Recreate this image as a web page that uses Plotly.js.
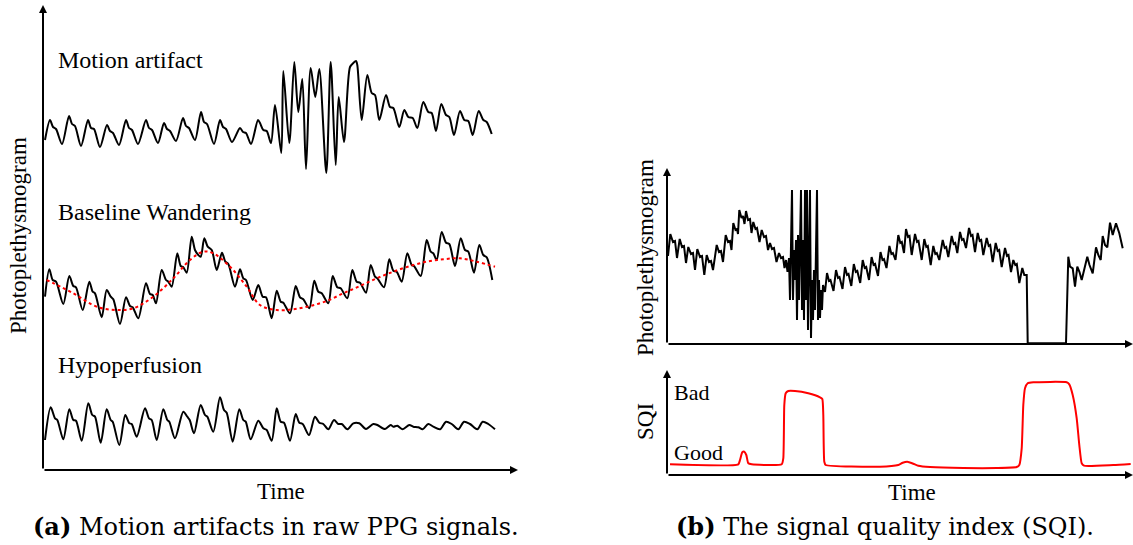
<!DOCTYPE html>
<html><head><meta charset="utf-8">
<script src="https://cdn.plot.ly/plotly-3.0.1.min.js"></script>
<style>html,body{margin:0;padding:0;background:#fff}#chart{width:1133px;height:545px}</style>
</head><body><div id="chart"></div><script>
// ---- (a) Motion artifact signal ----
const motionT=[2,7,10,13,19,26,29,32,38,45,48,51,57,64,67,70,76,83,86,89,95,103,106,109,115,121,124,127,133,140,143,146,152,158,161,164,171,177,180,183,189,197,200,203,208,215,217,220.3,223.7,228,232,238.3,240.3,246.3,251.3,255.3,259.3,263,267.7,272.3,276.3,283.3,287.7,292.7,295.7,301,307,310.3,313,314.3,318.7,324.3,328.7,332,336.3,343,347,350.3,356.3,361.3,365.3,369.7,374.3,380.3,385.3,388.7,393,398.3,403,406.3,411,417,421.3,425.3,429.7,435.7,440.3,443.7,448.7];
const motionA=[330,350,343,341,326,354,346,344,324,350,342,341,323,345,339,337,325,350,342,340,326,350,342,340,327,347,341,339,329,352,344,342,330,358,348,346,326,350,343,341,328,342,338,337,326,350,347,340,339,327,365,317,399,327,408,358,391,301,402,373,401,297,408,305,373,328,403,407,409,405,350,395,377,375,350,375,363,362,343,360,353,352,342,368,358,357,339,366,355,353,335,359,350,349,335,359,350,348,336];
// ---- (a) Baseline wandering signal ----
const wanderT=[2,6.3,9.7,13,20.3,26.3,30.3,33,39.7,46.3,49.7,52,58.7,63.7,67.7,70.3,77,83,87,89.7,95.3,103,107,109.7,113,118.7,123,125.3,128.7,134.3,137.7,140.3,143.7,148.7,152,155.3,157.7,161.3,164.7,168.7,173.7,179,182.3,185.3,192,197,200.3,203,209.7,215.3,219.7,223,228.7,233.7,237.7,240.3,247,252.7,257,260.3,266.3,271.3,275.3,278.7,285.3,289.7,294.3,297.7,304.3,309.3,313.7,317,323,327.7,332,334.3,341,346.3,350.3,353.7,358.7,364.3,368.7,371,377.7,383.7,387.7,390.3,393.7,398.7,403,406.3,412,417.7,422,425.3,431,436.3,440.3,443.7,449.3];
const wanderA=[173.3,200.7,190,188.3,166,194,184,182.7,160,188.3,178.3,176.7,152.7,180,173.3,170.7,146,172.7,164,162.7,151.7,186.7,176,175,166.7,200,190,188.3,183.3,216.7,204,202.7,197.3,233.3,220,215,213.3,231.7,223.3,220,200,217.3,208.3,206,183.3,200.7,191.7,190,170,185,173.3,172.7,151.7,179.3,168.3,167.3,156.7,184,172.7,170.7,161.7,189.3,178.3,176.7,166.7,194,182.7,181.7,171.7,200,188.3,187.3,177.3,205,193.3,191.7,182.7,210.7,199.3,198.3,188.3,216.7,205,204,194,230,218.3,216.7,210,238,227.3,226,204,231.7,220,218.3,197.3,225,215,212.7,190];
const trendT=[3.7,30.3,53.7,73.7,90.3,110.3,130.3,147,160.3,170.3,187,203.7,217,233.7,250.3,267,283.7,300.3,317,333.7,350.3,367,383.7,400.3,417,433.7,452];
const trendA=[190,176.7,163.3,160,161.7,173.3,191.7,210,218.3,216.7,203.3,183.3,165,160,160.7,164,169,176.7,184,191.7,198.3,204,208.3,210.7,211.7,208.3,203.3];
// ---- (a) Hypoperfusion signal ----
const hypoT=[2,7.7,12,14.3,20.3,26.3,30.3,33,38.7,45.3,49.3,52,57.7,63.7,67.7,69.7,76.3,82.3,86.3,88.7,93.7,102,106,108.7,113.7,120.3,124.3,126.3,132,140.3,144.3,146.7,151,157.7,162,164.3,170.3,177,181,183.7,189.7,196.3,200.3,202.7,207.7,215.3,220.3,223.7,228.7,233.7,237.7,241,247,252.7,256.3,259.7,266,272,276.3,280.3,285.3,291,295.3,298.7,304.3,310.3,316.3,323,330.3,334.3,342,347.7,350.3,354.3,359.7,366.3,370.3,375.3,379.7,385.3,390.3,397,403,408.7,415.3,421,427,434.3,439.7,445.3,452];
const hypoA=[30,62.7,51.7,50,30.7,60.7,50,49.3,29.3,66.7,55,53.3,27.3,60.7,50,48.3,25,55,46.7,46,33.3,61.7,51.7,50,30,60.7,50,48.3,31.7,58.3,53.3,50,36.7,65,55,53.3,38.3,72.7,60,57.3,28.3,60.7,50,48.3,30.7,49.3,41.7,40,29.3,61.7,48.3,47.3,29.3,56,47.3,46,35,53.3,47.3,46,40.7,50,46,46,40.7,46.7,46.7,41,46,45,41,45,43.3,44.3,40.7,45,43.3,42.7,40.7,46,43.3,40.7,48.3,46,40.7,48.3,46,40.7,48.3,46,40.7];
// ---- (b) PPG signal ----
const ppgT=[1,3.3,6,8,10,12.7,15,17,19,21.3,24,26,28,30.3,33,35,37.3,39.7,42,44,46,49.7,52,54,56,58.7,61,63,64.5,66.3,68.5,70,71,72.3,74.5,76,77.5,79,81,83,84.5,86.3,88.5,90,92.5,94.7,97,99,101,103,105,107,109.5,112,114,116,117.5,119,120.5,
122,123,124,125,126,127,128,129,130,131,132,133,134,135,136,137,138,139,140,141,142,143,144,145,146,147,148,149,150,151,152,153,154,155,156,158,
160,162,163.5,166.5,169,171,172.5,175.5,178,180,181.5,184.3,186.8,188.8,190.3,193.2,195.7,197.7,199.2,202,204.6,206.6,208.1,211,213.5,215.5,217,219.5,222.4,224.4,225.9,228.5,231.3,233.3,234.8,237,239,241,242.5,244.7,248,250,251.5,254.7,257.3,259.3,260.8,263.7,266.3,268.3,269.8,272.3,275.7,277.7,279.2,281.3,284.7,286.7,288.2,290.3,293,295,296.5,299,302,304,305.5,308,310.7,312.7,314.2,316.3,319.7,321.7,323.2,325.7,328.7,330.7,332.2,334.7,338,340,341.5,344,346.3,348.3,349.8,352.3,355.3,357.3,359.7,360.7,399,
401.3,403,405.7,408,410.3,412.5,414.7,420.3,422.5,425.7,429,431.3,433.7,435.7,438,440.3,443,445.7,449,452.3,455.7];
const ppgA=[88,110,102,103,86,105,97,98,81,97,90,91,74,95,87,88,69,89,82,83,74,99,92,93,82,109,102,103,94,121,114,115,110,134,126,128,120,133,124,125,111,122,115,116,102,114,107,108,94,101,95,96,82,91,86,87,76,84,72,
86,44,89,154,44,94,64,104,24,109,44,94,154,34,104,24,154,44,154,14,84,154,6,64,24,74,34,94,154,24,64,26,54,34,59,52,
71,63,64,53,74,66,67,55,77,69,70,58,80,72,73,61,84,76,77,64,87,79,80,68,92,84,85,76,98,90,91,84,109,101,102,91,115,107,108,89,110,102,103,84,105,97,98,79,98,90,91,84,104,96,97,87,108,100,101,91,112,104,105,96,116,108,109,92,111,103,104,89,106,98,99,82,101,93,94,77,96,88,89,72,84,79,80,61,76,69,69,0.7,0.7,
87.3,77.3,75.7,57.3,77.3,72,64,87.3,79,70.7,96.7,89,84,108,99,96.7,121.3,109,120.7,110.7,95.7];
// ---- (b) SQI ----
const sqiT=[3,71.3,73,75.3,77.3,79.3,81.3,84.7,114.7,116.3,117.3,118.7,121.3,128,141.3,153,155.3,156.3,157.3,158.7,213,231.3,235.7,240.3,246.3,251.3,263,296.3,329.7,349.7,352.3,354.7,356.3,358,360.7,366.3,399.7,402.3,405.7,409.7,412.3,414.7,417,446.3,463.7];
const sqiV=[10.7,10.7,15,22.7,23.3,20,11.7,10.7,10.7,16.7,70,81.7,84,84,81.7,77.7,76,60,13.3,10,8.3,10,12.3,13.3,11.3,9.3,8,7,7,8,10,26.7,70,86.7,91.7,92.7,92.7,90.7,80,56.7,30,11.7,9.3,10,11];
const sqiTickVals=[23,83];
const sqiTickText=['Good','Bad'];

const W=1133,H=545;
const serif='"Liberation Serif","Times New Roman",serif';
const capFont='"DejaVu Serif",serif';
function txt(text,x,y,opt){return Object.assign({text:text,xref:'paper',yref:'paper',x:x/W,y:1-y/H,showarrow:false,xanchor:'center',yanchor:'middle',font:{family:serif,size:24,color:'#000'}},opt||{});}
function arrow(xr,yr,x,y,ax,ay){return {xref:xr,yref:yr,x:x,y:y,ax:ax,ay:ay,axref:'pixel',ayref:'pixel',text:'',showarrow:true,arrowhead:2,arrowsize:0.8,arrowwidth:2,arrowcolor:'#000',standoff:0};}

const blk={color:'#000',width:2};
const traces=[
 {x:motionT,y:motionA,mode:'lines',line:Object.assign({shape:'spline',smoothing:0.8},blk),xaxis:'x',yaxis:'y'},
 {x:wanderT,y:wanderA,mode:'lines',line:Object.assign({shape:'spline',smoothing:0.8},blk),xaxis:'x',yaxis:'y'},
 {x:trendT,y:trendA,mode:'lines',line:{color:'#ff0000',width:2,dash:'dot',shape:'spline'},xaxis:'x',yaxis:'y'},
 {x:hypoT,y:hypoA,mode:'lines',line:Object.assign({shape:'spline',smoothing:0.8},blk),xaxis:'x',yaxis:'y'},
 {x:ppgT,y:ppgA,mode:'lines',line:{color:'#000',width:2},xaxis:'x2',yaxis:'y2'},
 {x:sqiT,y:sqiV,mode:'lines',line:{color:'#ff0000',width:2,shape:'spline',smoothing:0.5},xaxis:'x3',yaxis:'y3'}
];
const hid={visible:false,fixedrange:true};
const layout={
 width:W,height:H,margin:{l:0,r:0,t:0,b:0},paper_bgcolor:'#fff',plot_bgcolor:'rgba(0,0,0,0)',showlegend:false,
 xaxis:Object.assign({domain:[43/W,518/W],range:[0,475],anchor:'y'},hid),
 yaxis:Object.assign({domain:[75/H,540/H],range:[0,465],anchor:'x'},hid),
 xaxis2:Object.assign({domain:[667/W,1],range:[0,466],anchor:'y2'},hid),
 yaxis2:Object.assign({domain:[201/H,377/H],range:[0,176],anchor:'x2'},hid),
 xaxis3:Object.assign({domain:[667/W,1],range:[0,466],anchor:'y3'},hid),
 yaxis3:{domain:[70/H,175/H],range:[0,105],anchor:'x3',fixedrange:true,showline:false,showgrid:false,zeroline:false,ticks:'',
   tickvals:sqiTickVals,ticktext:sqiTickText,ticklabelposition:'inside',ticklabelstandoff:4,tickfont:{family:serif,size:22,color:'#000'}},
 annotations:[
  arrow('x','y',0,465,0,465), arrow('x','y',475,0,-475,0),
  arrow('x2','y2',0,176,0,176), arrow('x2','y2',466,0,-466,0),
  arrow('x3','y3',0,105,0,105), arrow('x3','y3',466,0,-466,0),
  txt('Motion artifact',56,60,{xanchor:'left'}),
  txt('Baseline Wandering',56,212,{xanchor:'left'}),
  txt('Hypoperfusion',56,365,{xanchor:'left'}),
  txt('Photoplethysmogram',18,236,{textangle:-90,font:{family:serif,size:23,color:'#000'}}),
  txt('Time',281,491,{font:{family:serif,size:23,color:'#000'}}),
  txt('Photoplethysmogram',645,258,{textangle:-90,font:{family:serif,size:23,color:'#000'}}),
  txt('SQI',645,422,{textangle:-90,font:{family:serif,size:23,color:'#000'}}),
  txt('Time',912,492,{font:{family:serif,size:23,color:'#000'}}),
  txt('<b>(a)</b> Motion artifacts in raw PPG signals.',276,526,{font:{family:capFont,size:24,color:'#000'}}),
  txt('<b>(b)</b> The signal quality index (SQI).',885,526,{font:{family:capFont,size:24,color:'#000'}})
 ]
};
Plotly.newPlot('chart',traces,layout,{staticPlot:true,displayModeBar:false});
</script></body></html>
